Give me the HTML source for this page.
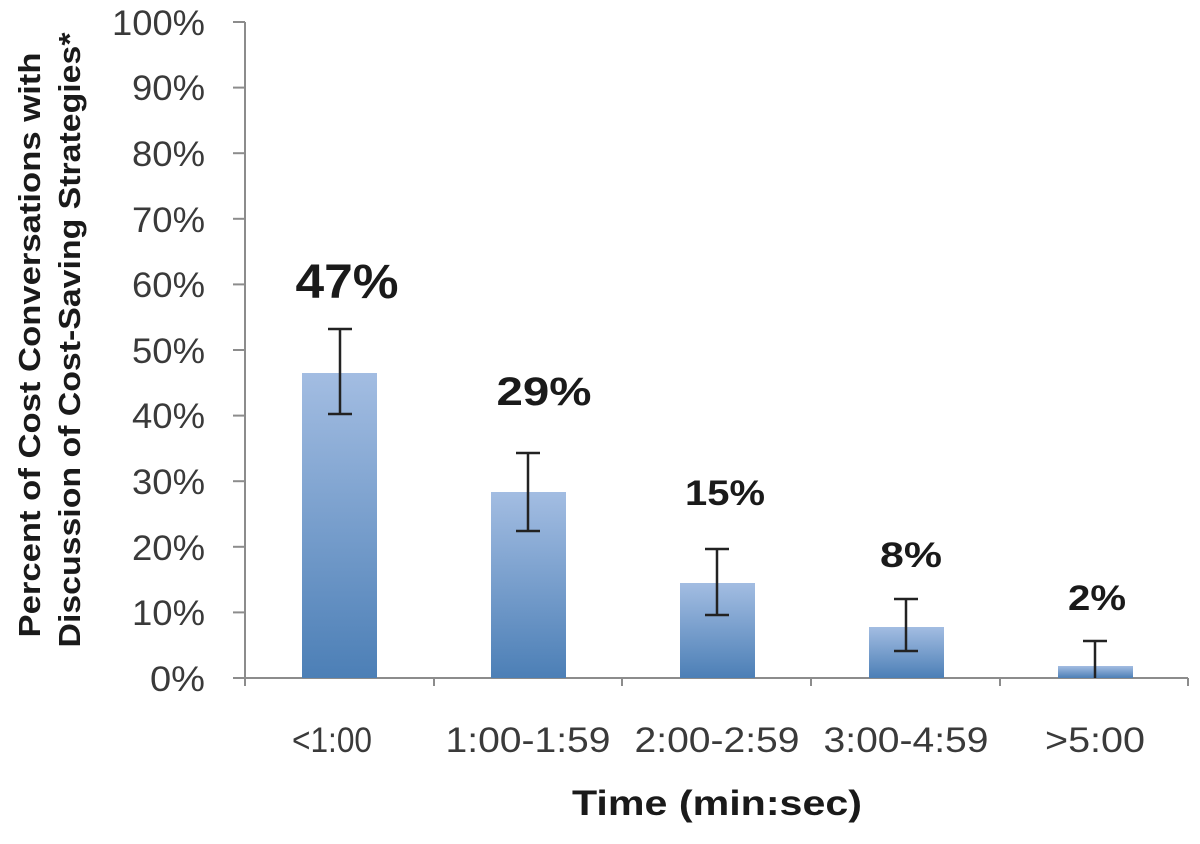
<!DOCTYPE html>
<html><head><style>body{margin:0;background:#fff}</style></head><body>
<svg width="1200" height="839" xmlns="http://www.w3.org/2000/svg" font-family="Liberation Sans, sans-serif">
<defs><linearGradient id="g" x1="0" y1="0" x2="0" y2="1"><stop offset="0" stop-color="#a3bde2"/><stop offset="1" stop-color="#4c7fb6"/></linearGradient></defs>
<g stroke="#8c8c8c" stroke-width="2">
<line x1="245" y1="22" x2="245" y2="686"/>
<line x1="233" y1="678" x2="1188" y2="678"/>
<line x1="233" y1="22" x2="245" y2="22"/><line x1="233" y1="87.6" x2="245" y2="87.6"/><line x1="233" y1="153.2" x2="245" y2="153.2"/><line x1="233" y1="218.8" x2="245" y2="218.8"/><line x1="233" y1="284.4" x2="245" y2="284.4"/><line x1="233" y1="350" x2="245" y2="350"/><line x1="233" y1="415.6" x2="245" y2="415.6"/><line x1="233" y1="481.2" x2="245" y2="481.2"/><line x1="233" y1="546.8" x2="245" y2="546.8"/><line x1="233" y1="612.4" x2="245" y2="612.4"/>
<line x1="434" y1="678" x2="434" y2="686"/><line x1="622" y1="678" x2="622" y2="686"/><line x1="811" y1="678" x2="811" y2="686"/><line x1="1000" y1="678" x2="1000" y2="686"/><line x1="1188" y1="678" x2="1188" y2="686"/>
</g>
<g font-size="35" fill="#3a3a3a" text-anchor="end" lengthAdjust="spacingAndGlyphs">
<text x="205" y="35" textLength="93" lengthAdjust="spacingAndGlyphs">100%</text><text x="205" y="100" textLength="73" lengthAdjust="spacingAndGlyphs">90%</text><text x="205" y="166" textLength="73" lengthAdjust="spacingAndGlyphs">80%</text><text x="205" y="232" textLength="73" lengthAdjust="spacingAndGlyphs">70%</text><text x="205" y="297" textLength="73" lengthAdjust="spacingAndGlyphs">60%</text><text x="205" y="363" textLength="73" lengthAdjust="spacingAndGlyphs">50%</text><text x="205" y="428" textLength="73" lengthAdjust="spacingAndGlyphs">40%</text><text x="205" y="494" textLength="73" lengthAdjust="spacingAndGlyphs">30%</text><text x="205" y="560" textLength="73" lengthAdjust="spacingAndGlyphs">20%</text><text x="205" y="625" textLength="73" lengthAdjust="spacingAndGlyphs">10%</text><text x="205" y="691" textLength="55" lengthAdjust="spacingAndGlyphs">0%</text>
</g>
<g fill="url(#g)">
<rect x="302" y="373" width="75" height="305"/>
<rect x="491" y="492" width="75" height="186"/>
<rect x="680" y="583" width="75" height="95"/>
<rect x="869" y="627" width="75" height="51"/>
<rect x="1058" y="666" width="75" height="12"/>
</g>
<g stroke="#222" stroke-width="2.5">
<line x1="340" y1="329" x2="340" y2="414"/><line x1="328" y1="329" x2="352" y2="329"/><line x1="328" y1="414" x2="352" y2="414"/>
<line x1="528" y1="453" x2="528" y2="531"/><line x1="516" y1="453" x2="540" y2="453"/><line x1="516" y1="531" x2="540" y2="531"/>
<line x1="717" y1="549" x2="717" y2="615"/><line x1="705" y1="549" x2="729" y2="549"/><line x1="705" y1="615" x2="729" y2="615"/>
<line x1="906" y1="599" x2="906" y2="651"/><line x1="894" y1="599" x2="918" y2="599"/><line x1="894" y1="651" x2="918" y2="651"/>
<line x1="1095" y1="641" x2="1095" y2="678"/><line x1="1083" y1="641" x2="1107" y2="641"/>
</g>
<g font-weight="bold" fill="#1a1a1a" text-anchor="middle">
<text x="347" y="298" font-size="48" textLength="103" lengthAdjust="spacingAndGlyphs">47%</text>
<text x="544" y="405" font-size="40" textLength="95" lengthAdjust="spacingAndGlyphs">29%</text>
<text x="725" y="505" font-size="35" textLength="80" lengthAdjust="spacingAndGlyphs">15%</text>
<text x="911" y="567" font-size="35" textLength="62" lengthAdjust="spacingAndGlyphs">8%</text>
<text x="1097" y="610" font-size="35" textLength="58" lengthAdjust="spacingAndGlyphs">2%</text>
</g>
<g font-size="35" fill="#3a3a3a" text-anchor="middle">
<text x="332" y="752" textLength="80" lengthAdjust="spacingAndGlyphs">&lt;1:00</text><text x="528" y="752" textLength="165" lengthAdjust="spacingAndGlyphs">1:00-1:59</text><text x="717" y="752" textLength="165" lengthAdjust="spacingAndGlyphs">2:00-2:59</text><text x="906" y="752" textLength="165" lengthAdjust="spacingAndGlyphs">3:00-4:59</text><text x="1095" y="752" textLength="100" lengthAdjust="spacingAndGlyphs">&gt;5:00</text>
</g>
<text x="717" y="815" font-size="35" font-weight="bold" fill="#1a1a1a" text-anchor="middle" textLength="290" lengthAdjust="spacingAndGlyphs">Time (min:sec)</text>
<g font-size="31" font-weight="bold" fill="#1a1a1a" text-anchor="middle">
<text transform="translate(40,345) rotate(-90)" textLength="585" lengthAdjust="spacingAndGlyphs">Percent of Cost Conversations with</text>
<text transform="translate(80,340) rotate(-90)" textLength="615" lengthAdjust="spacingAndGlyphs">Discussion of Cost-Saving Strategies*</text>
</g>
</svg>
</body></html>
